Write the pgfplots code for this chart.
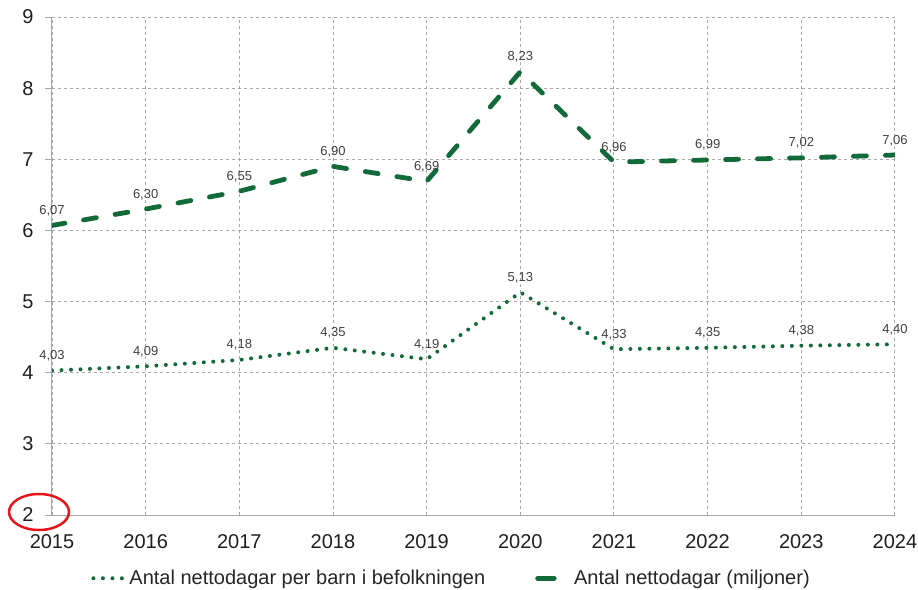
\documentclass[border=0pt]{standalone}
\usepackage{pgfplots}
\pgfplotsset{compat=1.18}
\usepackage{fontspec}
\setmainfont{Liberation Sans}

\definecolor{linegreen}{RGB}{18,106,58}
\definecolor{gridgray}{RGB}{168,168,168}
\definecolor{labelgray}{RGB}{64,64,64}
\definecolor{circlered}{RGB}{230,20,26}

\pgfplotsset{
    dotlegend/.style={legend image code/.code={\draw[#1] (2pt,0pt) -- (34pt,0pt);}},
    dashlegend/.style={legend image code/.code={\draw[#1, solid] (2.4pt,0pt) -- (16.6pt,0pt);
                                               \path (0pt,0pt) -- (32pt,0pt);}},
}

\begin{document}
\begin{tikzpicture}
\useasboundingbox (-52pt,-74pt) rectangle (866pt,515pt);
\begin{axis}[
    scale only axis,
    width=843pt, height=498pt,
    xmin=2015, xmax=2024,
    ymin=2, ymax=9,
    xtick={2015,...,2024},
    ytick={2,...,9},
    axis x line*=bottom,
    axis y line*=left,
    axis line style={gridgray, line width=1pt},
    grid=major,
    major grid style={gridgray, line width=0.9pt, dash pattern=on 3pt off 3pt},
    xtick style={draw=none},
    ytick style={gridgray, line width=0.9pt},
    tick align=outside,
    major tick length=7pt,
    /pgf/number format/assume math mode=true,
    tick label style={font=\fontsize{20}{24}\selectfont, text=black!88},
    xticklabel style={/pgf/number format/1000 sep={}, yshift=-9pt},
    yticklabel style={xshift=-8pt},
    legend columns=2,
    legend style={
        at={(0.474,-0.127)}, anchor=center,
        draw=none, fill=none,
        font=\fontsize{20}{24}\selectfont,
        text=black!85,
        /tikz/every even column/.append style={column sep=48pt},
    },
    nodes near coords={\pgfmathprintnumber[fixed,fixed zerofill,precision=2,use comma]{\pgfplotspointmeta}},
    every node near coord/.append style={
        font=\fontsize{13}{15}\selectfont, text=labelgray,
        anchor=base, yshift=11pt, inner sep=0pt},
]
% per child in the population
\addplot[linegreen, line width=4pt, line cap=round,
         dash pattern=on 0pt off 9.5pt, dotlegend]
    coordinates {
    (2015,4.03) (2016,4.09) (2017,4.18) (2018,4.35) (2019,4.19)
    (2020,5.13) (2021,4.33) (2022,4.35) (2023,4.38) (2024,4.40)
};
\addlegendentry{Antal nettodagar per barn i befolkningen}
% total, millions
\addplot[linegreen, line width=4.8pt, line cap=round,
         dash pattern=on 13pt off 19pt, dashlegend]
    coordinates {
    (2015,6.07) (2016,6.30) (2017,6.55) (2018,6.90) (2019,6.69)
    (2020,8.23) (2021,6.96) (2022,6.99) (2023,7.02) (2024,7.06)
};
\addlegendentry{Antal nettodagar (miljoner)}
\end{axis}
\draw[circlered, line width=2.5pt] (-13pt,3pt) ellipse [x radius=30pt, y radius=18pt];
\end{tikzpicture}
\end{document}
